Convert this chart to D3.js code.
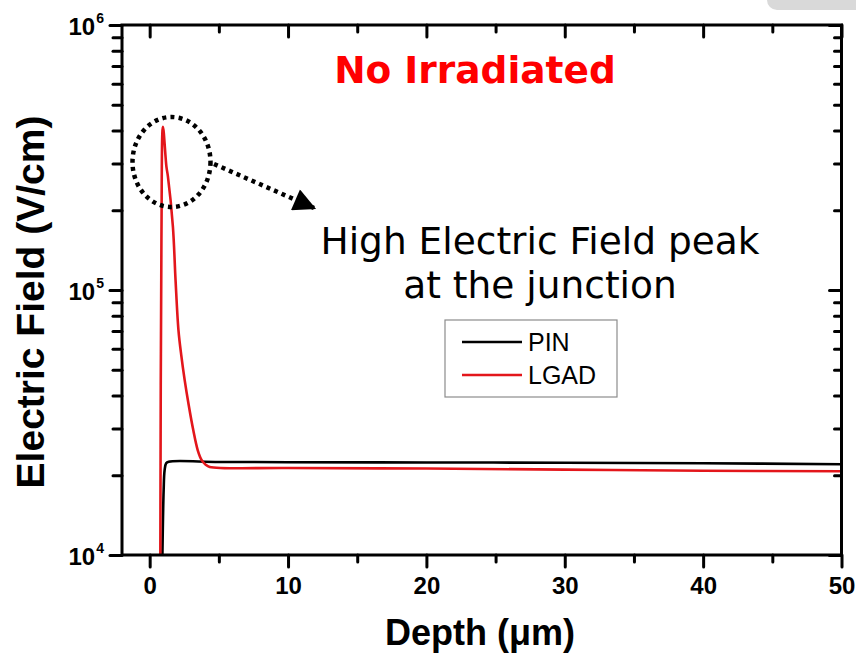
<!DOCTYPE html>
<html>
<head>
<meta charset="utf-8">
<script src="https://cdn.jsdelivr.net/npm/d3@7"></script>
<style>
	body { margin: 0; background: #fff; }
	svg { display: block; }
</style>
</head>
<body>
<div id="chart"></div>
<script>
// values
const pinDepth = [0.92, 1.01, 1.08, 1.19, 1.37, 5, 10, 20, 30, 40, 50]
const pinField = [1.0e4, 1.76e4, 2.09e4, 2.22e4, 2.25e4, 2.245e4, 2.24e4, 2.235e4, 2.23e4, 2.22e4, 2.2e4]

const lgadDepth = [0.77, 0.85, 0.96, 1.21, 1.32, 1.68, 1.87, 2.08, 2.28, 2.53, 2.82, 3.15, 3.47, 3.76, 4.05, 4.34, 10, 20, 30, 40, 50]
const lgadField = [1.0e4, 1.55e5, 4.13e5, 2.92e5, 2.68e5, 1.73e5, 1.09e5, 7.06e4, 5.69e4, 4.57e4, 3.68e4, 2.96e4, 2.49e4, 2.28e4, 2.19e4, 2.15e4, 2.13e4, 2.12e4, 2.1e4, 2.08e4, 2.07e4]

const depthMajor = [0, 10, 20, 30, 40, 50]
const depthMinor = [5, 15, 25, 35, 45]
const fieldMajor = [1e4, 1e5, 1e6]
const fieldExp = ['4', '5', '6']

const seriesNames = ['PIN', 'LGAD']
const seriesColors = ['#000000', '#e3161b']

const width = 856
const height = 656
const margin = { top: 25, right: 14.5, bottom: 101, left: 122 }

const svg = d3.select('#chart')
	.append('svg')
	.attr('width', width)
	.attr('height', height)

// grey tab in the top-right corner
svg.append('rect')
	.attr('x', 767)
	.attr('y', -14)
	.attr('width', 110)
	.attr('height', 24)
	.attr('rx', 10)
	.attr('fill', '#d9d9d9')

const x = d3.scaleLinear()
	.domain([-2, 50])
	.range([margin.left, width - margin.right])

const y = d3.scaleLog()
	.domain([1e4, 1e6])
	.range([height - margin.bottom, margin.top])

const fieldMinor = []
for (let e = 4; e < 6; e++) {
	for (let m = 2; m <= 9; m++) fieldMinor.push(m * Math.pow(10, e))
}

const x0 = x.range()[0], x1 = x.range()[1]
const y0 = y.range()[0], y1 = y.range()[1]

svg.append('clipPath')
	.attr('id', 'plotClip')
	.append('rect')
	.attr('x', x0)
	.attr('y', y1)
	.attr('width', x1 - x0)
	.attr('height', y0 - y1)

const line = d3.line()
	.x(d => x(d[0]))
	.y(d => y(d[1]))
	.curve(d3.curveCatmullRom.alpha(0.5))

const series = [
	pinDepth.map((d, i) => [d, pinField[i]]),
	lgadDepth.map((d, i) => [d, lgadField[i]])
]

svg.append('g')
	.attr('clip-path', 'url(#plotClip)')
	.selectAll('path')
	.data(series)
	.enter()
	.append('path')
	.attr('d', line)
	.attr('fill', 'none')
	.attr('stroke', (d, i) => seriesColors[i])
	.attr('stroke-width', 2.6)
	.attr('stroke-linejoin', 'round')

// axes, Origin style: ticks all on the same side
function styleAxis(g) {
	g.select('.domain').remove()
	g.selectAll('line')
		.attr('stroke', '#000')
		.attr('stroke-width', 3)
		.attr('stroke-linecap', 'round')
}

svg.append('g')
	.attr('transform', `translate(0,${y0})`)
	.call(d3.axisBottom(x).tickValues(depthMinor).tickSize(7).tickFormat(''))
	.call(styleAxis)

svg.append('g')
	.attr('transform', `translate(0,${y0})`)
	.call(d3.axisBottom(x).tickValues(depthMajor).tickSize(12).tickPadding(10).tickFormat(d3.format('d')))
	.call(styleAxis)
	.selectAll('text')
	.attr('font-family', 'Liberation Sans, Arial, sans-serif')
	.attr('font-weight', 'bold')
	.attr('font-size', 24)
	.attr('fill', '#000')

svg.append('g')
	.attr('transform', `translate(0,${y1})`)
	.call(d3.axisTop(x).tickValues(depthMinor).tickSize(-7).tickFormat(''))
	.call(styleAxis)

svg.append('g')
	.attr('transform', `translate(0,${y1})`)
	.call(d3.axisTop(x).tickValues(depthMajor).tickSize(-12).tickFormat(''))
	.call(styleAxis)

svg.append('g')
	.attr('transform', `translate(${x0},0)`)
	.call(d3.axisLeft(y).tickValues(fieldMinor).tickSize(9).tickFormat(''))
	.call(styleAxis)

svg.append('g')
	.attr('transform', `translate(${x0},0)`)
	.call(d3.axisLeft(y).tickValues(fieldMajor).tickSize(12).tickFormat(''))
	.call(styleAxis)

svg.append('g')
	.attr('transform', `translate(${x1},0)`)
	.call(d3.axisRight(y).tickValues(fieldMinor).tickSize(-7).tickFormat(''))
	.call(styleAxis)

svg.append('g')
	.attr('transform', `translate(${x1},0)`)
	.call(d3.axisRight(y).tickValues(fieldMajor).tickSize(-12).tickFormat(''))
	.call(styleAxis)

// y tick labels 10^n
const yLabels = svg.append('g')
	.selectAll('text')
	.data(fieldMajor)
	.enter()
	.append('text')
	.attr('x', x0 - 18)
	.attr('y', d => y(d) + 10)
	.attr('text-anchor', 'end')
	.attr('font-family', 'Liberation Sans, Arial, sans-serif')
	.attr('font-weight', 'bold')
	.attr('font-size', 24)
	.attr('fill', '#000')

yLabels.append('tspan').text('10')
yLabels.append('tspan')
	.attr('dy', -12)
	.attr('font-size', 14)
	.attr('dx', 1)
	.text((d, i) => fieldExp[i])

// frame lines
svg.append('rect')
	.attr('x', x0)
	.attr('y', y1)
	.attr('width', x1 - x0)
	.attr('height', y0 - y1)
	.attr('fill', 'none')
	.attr('stroke', '#000')
	.attr('stroke-width', 3)

// axis titles
svg.append('text')
	.attr('x', 480)
	.attr('y', 645)
	.attr('text-anchor', 'middle')
	.attr('font-family', 'Liberation Sans, Arial, sans-serif')
	.attr('font-weight', 'bold')
	.attr('font-size', 36)
	.attr('fill', '#000')
	.text('Depth (\u03bcm)')

svg.append('text')
	.attr('transform', 'translate(44,302) rotate(-90)')
	.attr('text-anchor', 'middle')
	.attr('font-family', 'Liberation Sans, Arial, sans-serif')
	.attr('font-weight', 'bold')
	.attr('font-size', 39)
	.attr('fill', '#000')
	.text('Electric Field (V/cm)')

// annotations
svg.append('text')
	.attr('x', 475)
	.attr('y', 83)
	.attr('text-anchor', 'middle')
	.attr('font-family', 'DejaVu Sans, Verdana, sans-serif')
	.attr('font-weight', 'bold')
	.attr('font-size', 37.5)
	.attr('fill', '#ff0000')
	.text('No Irradiated')

const note = svg.append('text')
	.attr('text-anchor', 'middle')
	.attr('font-family', 'DejaVu Sans, Verdana, sans-serif')
	.attr('font-size', 37.5)
	.attr('fill', '#000')

note.append('tspan').attr('x', 540).attr('y', 254).text('High Electric Field peak')
note.append('tspan').attr('x', 540).attr('y', 298).text('at the junction')

svg.append('defs')
	.append('marker')
	.attr('id', 'arrowHead')
	.attr('viewBox', '0 0 10 10')
	.attr('refX', 9)
	.attr('refY', 5)
	.attr('markerWidth', 5.5)
	.attr('markerHeight', 5)
	.attr('markerUnits', 'strokeWidth')
	.attr('orient', 'auto')
	.append('path')
	.attr('d', 'M0,0L10,5L0,10Z')
	.attr('fill', '#000')

svg.append('ellipse')
	.attr('cx', 171.5)
	.attr('cy', 162)
	.attr('rx', 39)
	.attr('ry', 45)
	.attr('fill', 'none')
	.attr('stroke', '#000')
	.attr('stroke-width', 4.5)
	.attr('stroke-dasharray', '4 4.2')

svg.append('line')
	.attr('x1', 214)
	.attr('y1', 164)
	.attr('x2', 314)
	.attr('y2', 208)
	.attr('stroke', '#000')
	.attr('stroke-width', 4.5)
	.attr('stroke-dasharray', '4 4.2')
	.attr('marker-end', 'url(#arrowHead)')

// legend
const legend = svg.append('g').attr('transform', 'translate(445,320)')

legend.append('rect')
	.attr('width', 172)
	.attr('height', 77)
	.attr('fill', '#fff')
	.attr('stroke', '#8c8c8c')
	.attr('stroke-width', 1.2)

const items = legend.selectAll('.item')
	.data(seriesNames)
	.enter()
	.append('g')
	.attr('class', 'item')
	.attr('transform', (d, i) => `translate(0,${22 + i * 33})`)

items.append('line')
	.attr('x1', 17)
	.attr('x2', 77)
	.attr('stroke', (d, i) => seriesColors[i])
	.attr('stroke-width', 2.4)

items.append('text')
	.attr('x', 83)
	.attr('y', 9)
	.attr('font-family', 'Liberation Sans, Arial, sans-serif')
	.attr('font-size', 25)
	.attr('fill', '#000')
	.text(d => d)
</script>
</body>
</html>
